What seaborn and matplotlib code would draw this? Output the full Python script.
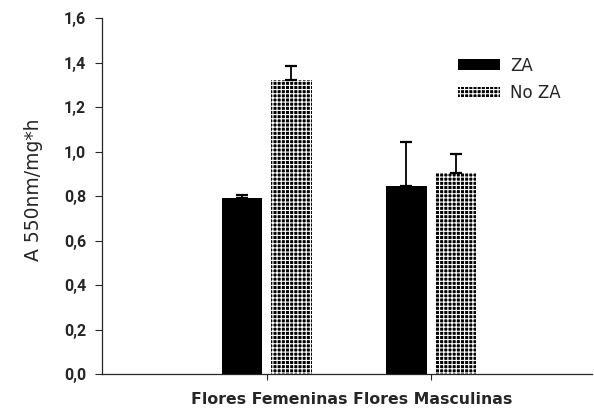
import numpy as np
import pandas as pd
import matplotlib
matplotlib.use("Agg")
import matplotlib.pyplot as plt
import seaborn as sns
from matplotlib.ticker import FuncFormatter

# data
categories = ["Flores Femeninas", "Flores Masculinas"]
groups = ["ZA", "No ZA"]
za_values = [0.79, 0.845]
za_err = [0.014, 0.198]
noza_values = [1.321, 0.902]
noza_err = [0.062, 0.087]

df = pd.DataFrame({
    "cat": categories * 2,
    "group": [groups[0]] * 2 + [groups[1]] * 2,
    "value": za_values + noza_values,
})
errs = {groups[0]: za_err, groups[1]: noza_err}

sns.set_style("ticks")
plt.rcParams["font.family"] = ["DejaVu Sans"]
plt.rcParams["hatch.linewidth"] = 0.8

fig = plt.figure(figsize=(5.94, 4.12), dpi=100)
ax = fig.add_axes([0.172, 0.092, 0.825, 0.864])

sns.barplot(data=df, x="cat", y="value", hue="group", hue_order=groups,
            order=categories, palette=["black", "black"], width=0.6, gap=0.18,
            errorbar=None, legend=False, ax=ax)

# dense grid pattern on the "No ZA" bars
for p in ax.containers[1]:
    p.set_facecolor("black")
    p.set_edgecolor("white")
    p.set_linewidth(0)
    p.set_hatch("++++")
for p in ax.containers[0]:
    p.set_linewidth(0)

# upper error bars only
for cont, g in zip(ax.containers, groups):
    xs = [p.get_x() + p.get_width() / 2 for p in cont]
    hs = [p.get_height() for p in cont]
    e = errs[g]
    ax.errorbar(xs, hs, yerr=[np.zeros(len(e)), e], fmt="none", ecolor="black",
                elinewidth=1.3, capsize=4.3, capthick=1.6, zorder=1)

ax.set_ylim(0, 1.6)
ax.set_xlim(-1, 1.98)
ax.set_yticks(np.arange(0, 1.61, 0.2))
ax.yaxis.set_major_formatter(FuncFormatter(lambda v, _: f"{v:.1f}".replace(".", ",")))
ax.set_xticks([0, 1])
ax.set_xticklabels(["", ""])
ax.tick_params(axis="y", length=5, width=0.8, pad=6.5)
ax.tick_params(axis="x", length=4, width=0.8)
for t in ax.get_yticklabels():
    t.set_fontfamily("Roboto")
    t.set_fontsize(11.5)
    t.set_fontweight("bold")

ax.set_ylabel("A 550nm/mg*h", fontsize=13.5)
ax.yaxis.set_label_coords(-0.12, 0.517)
ax.set_xlabel("Flores Femeninas Flores Masculinas", fontsize=11.3,
              fontweight="bold")
ax.xaxis.set_label_coords(0.51, -0.05)

sns.despine(ax=ax)
for s in ["left", "bottom"]:
    ax.spines[s].set_linewidth(0.9)

ax.legend(handles=[ax.containers[0], ax.containers[1]], labels=groups,
          frameon=False, loc="upper left", bbox_to_anchor=(0.7465, 0.899),
          bbox_transform=fig.transFigure, fontsize=12,
          handlelength=2.5, handleheight=0.6, labelspacing=0.55,
          handletextpad=0.6)

plt.savefig("out.png", dpi=100)
